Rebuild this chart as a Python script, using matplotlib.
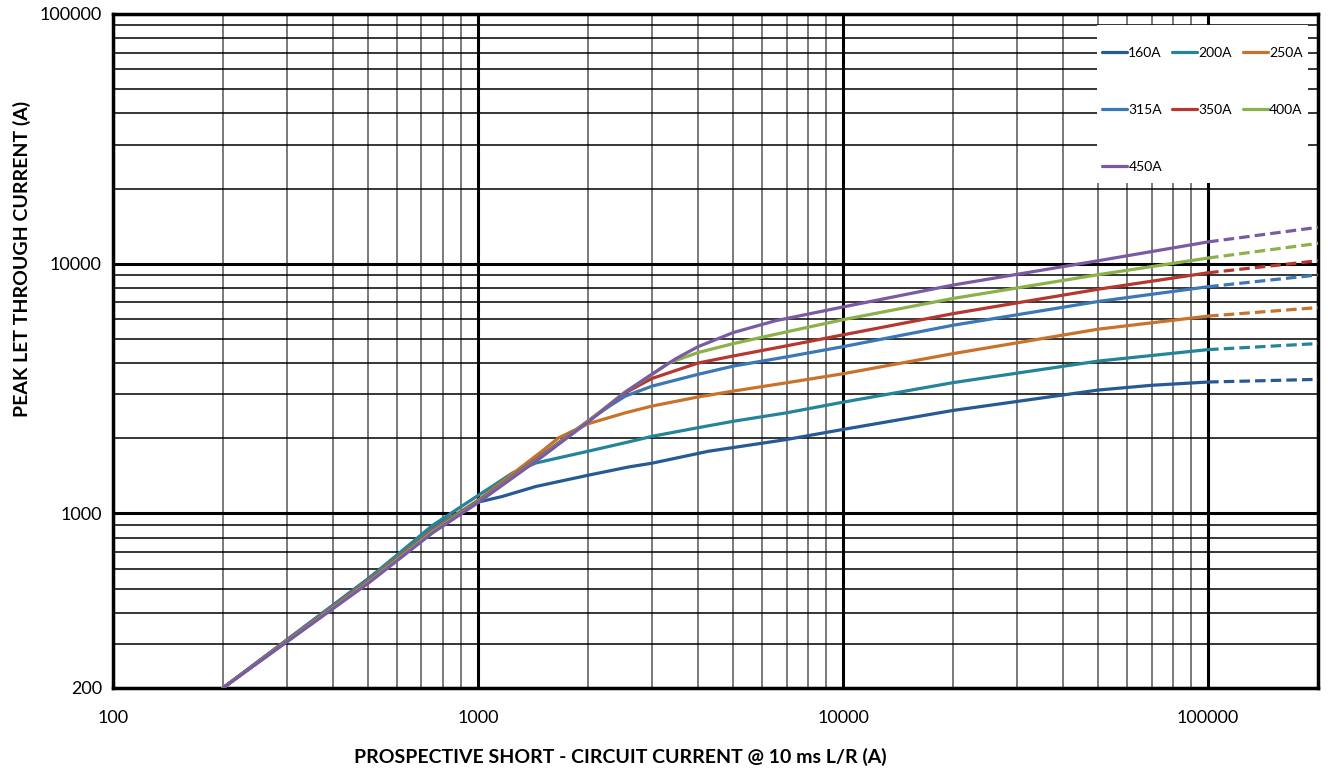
import matplotlib
matplotlib.use('Agg')
import matplotlib.pyplot as plt
from matplotlib.patches import Rectangle
from matplotlib.ticker import FixedLocator, LogLocator, NullFormatter

plt.rcParams['font.family'] = ['Lato', 'DejaVu Sans']

# ---------- data ----------
labels = ['160A', '200A', '250A', '315A', '350A', '400A', '450A']
colors = ['#255A96', '#23849A', '#C8732C', '#3C78B5', '#B5372F', '#8CB04A', '#7A5BA3']

# solid parts (up to 100 kA)
x160 = [200, 500, 750, 1000, 1164, 1439, 2000, 2585, 3000, 4275, 7000, 10000, 20000, 50000, 70000, 100000]
y160 = [200, 548, 880, 1110, 1169, 1282, 1422, 1535, 1590, 1774, 1977, 2170, 2585, 3120, 3260, 3360]

x200 = [200, 500, 750, 1000, 1072, 1242, 1439, 2000, 2585, 3000, 4000, 5000, 7000, 10000, 20000, 50000, 100000]
y200 = [200, 546, 895, 1180, 1260, 1452, 1592, 1774, 1934, 2037, 2204, 2339, 2529, 2790, 3340, 4075, 4530]

x250 = [200, 500, 750, 1000, 1500, 1664, 2000, 2532, 3000, 4000, 5000, 7000, 10000, 20000, 50000, 100000]
y250 = [200, 540, 860, 1130, 1780, 2010, 2285, 2529, 2693, 2926, 3090, 3336, 3626, 4365, 5470, 6170]

x315 = [200, 500, 750, 1000, 1500, 2000, 2300, 2532, 3000, 4000, 5000, 7000, 10000, 20000, 50000, 100000]
y315 = [200, 537, 855, 1120, 1720, 2345, 2700, 2950, 3236, 3604, 3890, 4236, 4655, 5670, 7060, 8090]

x350 = [200, 500, 750, 1000, 1500, 2000, 2500, 2901, 3000, 4000, 5000, 7000, 10000, 20000, 50000, 100000]
y350 = [200, 533, 850, 1112, 1710, 2340, 3010, 3388, 3474, 4000, 4271, 4690, 5190, 6310, 7905, 9200]

x400 = [200, 500, 750, 1000, 1500, 2000, 2532, 3000, 3326, 4000, 5000, 7000, 10000, 20000, 50000, 100000]
y400 = [200, 530, 845, 1110, 1700, 2335, 3070, 3600, 4000, 4406, 4786, 5335, 5970, 7260, 9040, 10540]

x450 = [200, 500, 750, 1000, 1500, 2000, 2532, 3000, 3467, 4000, 5000, 6505, 10000, 20000, 50000, 100000]
y450 = [200, 525, 835, 1105, 1690, 2320, 3060, 3620, 4150, 4650, 5300, 5904, 6714, 8215, 10280, 12230]

# dashed extrapolation (100 kA -> 200 kA)
x_ext = [100000, 200000]
y_ext = [[3360, 3443], [4530, 4790], [6170, 6675], [8090, 9020],
         [9200, 10280], [10540, 12065], [12230, 13990]]

xs = [x160, x200, x250, x315, x350, x400, x450]
ys = [y160, y200, y250, y315, y350, y400, y450]

# ---------- plot ----------
fig = plt.figure(figsize=(13.28, 7.69), dpi=100)
ax = fig.add_axes([113/1328, 81/769, 1205/1328, 674/769])

handles = []
for x, y, ye, c, lab in zip(xs, ys, y_ext, colors, labels):
    h, = ax.plot(x, y, color=c, lw=2.3, label=lab, solid_joinstyle='round',
                 solid_capstyle='round', zorder=3)
    ax.plot(x_ext, ye, color=c, lw=2.3, dashes=(3.3, 1.6), zorder=3)
    handles.append(h)

ax.set_xscale('log')
ax.set_yscale('log')
ax.set_xlim(100, 200000)
ax.set_ylim(200, 100000)

ax.xaxis.set_major_locator(FixedLocator([100, 1000, 10000, 100000]))
ax.yaxis.set_major_locator(FixedLocator([200, 1000, 10000, 100000]))
ax.xaxis.set_minor_locator(LogLocator(base=10, subs=range(2, 10), numticks=20))
ax.yaxis.set_minor_locator(LogLocator(base=10, subs=range(2, 10), numticks=20))
ax.set_xticklabels(['100', '1000', '10000', '100000'])
ax.set_yticklabels(['200', '1000', '10000', '100000'])
ax.xaxis.set_minor_formatter(NullFormatter())
ax.yaxis.set_minor_formatter(NullFormatter())
ax.tick_params(which='both', length=0)
ax.tick_params(axis='x', pad=16, labelsize=13)
ax.tick_params(axis='y', pad=8, labelsize=13)

ax.grid(which='major', color='black', lw=2.2, zorder=1)
ax.xaxis.grid(which='minor', color='#7a7a7a', lw=1.4, zorder=1)
ax.yaxis.grid(which='minor', color='black', lw=1.1, zorder=1)
ax.set_axisbelow(True)
for s in ax.spines.values():
    s.set_color('black')
    s.set_linewidth(2.5)

# white legend area (no border), legend filled row by row
ax.add_patch(Rectangle((0.8166, 0.749), 0.175, 0.2347, transform=ax.transAxes,
                       facecolor='white', edgecolor='none', zorder=4))
order = [0, 3, 6, 1, 4, 2, 5]
leg = ax.legend([handles[i] for i in order], [labels[i] for i in order],
                loc='upper left', bbox_to_anchor=(0.8207, 0.9516),
                ncol=3, fontsize=10, frameon=False,
                handlelength=1.8, handletextpad=0.1, columnspacing=0.75,
                labelspacing=3.25, borderpad=0, borderaxespad=0)
leg.set_zorder(5)

fig.text(620/1328, 1 - 757/769, 'PROSPECTIVE SHORT - CIRCUIT CURRENT @ 10 ms L/R (A)',
         ha='center', va='center', fontsize=14, fontweight='bold')
fig.text(22/1328, 1 - 259/769, 'PEAK LET THROUGH CURRENT (A)',
         ha='center', va='center', rotation=90, fontsize=14, fontweight='bold')

fig.savefig('out.png', dpi=100)
